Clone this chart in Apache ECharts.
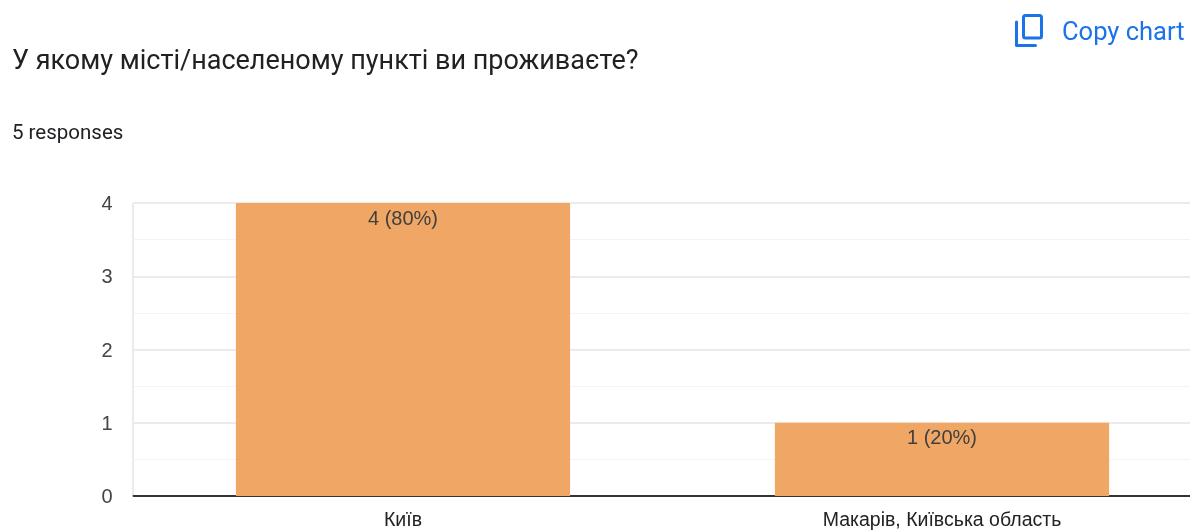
<!DOCTYPE html>
<html>
<head>
<meta charset="utf-8">
<style>html,body{margin:0;padding:0;background:#fff}#chart{width:1190px;height:531px}</style>
<script src="https://cdn.jsdelivr.net/npm/echarts@6/dist/echarts.min.js"></script>
</head>
<body>
<div id="chart"></div>
<script>
// Survey answers: city of residence
const questionTitle = 'У якому місті/населеному пункті ви проживаєте?';
const responsesNote = '5 responses';
const copyLabel = 'Copy chart';
const cities = ['Київ', 'Макарів, Київська область'];
const counts = [4, 1];
const percents = [80, 20];

const chart = echarts.init(document.getElementById('chart'), null, { renderer: 'canvas' });
const FONT = 'Roboto, "Liberation Sans", Arial, sans-serif';
const AXIS_FONT = '"Liberation Sans", Arial, sans-serif';
const BLUE = '#1a73e8';

chart.setOption({
  animation: false,
  backgroundColor: '#ffffff',
  title: [
    { text: questionTitle, left: 12, top: 49, padding: 0,
      textStyle: { fontFamily: FONT, fontSize: 27, fontWeight: 400, color: '#202124' } },
    { text: responsesNote, left: 12, top: 123, padding: 0,
      textStyle: { fontFamily: FONT, fontSize: 20.5, fontWeight: 400, color: '#202124' } },
    { text: copyLabel, left: 1062, top: 21, padding: 0,
      textStyle: { fontFamily: FONT, fontSize: 25.5, fontWeight: 400, color: BLUE } }
  ],
  grid: { left: 133.5, top: 203, width: 1078, height: 293, containLabel: false, outerBoundsMode: 'none' },
  xAxis: {
    type: 'category',
    data: cities,
    axisTick: { show: false },
    axisLine: { lineStyle: { color: '#333333', width: 2 } },
    axisLabel: { fontFamily: AXIS_FONT, fontSize: 19.5, color: '#222222', margin: 15 }
  },
  yAxis: {
    type: 'value',
    min: 0,
    max: 4,
    interval: 1,
    axisLine: { show: false },
    axisTick: { show: false },
    axisLabel: {
      margin: 21,
      formatter: '{tick|{value}}',
      rich: { tick: { fontFamily: AXIS_FONT, fontSize: 20, color: '#444444', padding: [3, 0, 0, 0] } }
    },
    splitLine: { lineStyle: { color: '#ebebeb', width: 2 } },
    minorTick: { show: false, splitNumber: 2 },
    minorSplitLine: { show: true, lineStyle: { color: '#f3f3f3', width: 1 } }
  },
  series: [{
    type: 'bar',
    data: counts,
    barWidth: '62%',
    itemStyle: { color: '#f0a765' },
    label: {
      show: true,
      position: 'insideTop',
      distance: 6,
      fontFamily: AXIS_FONT,
      fontSize: 20,
      color: '#404040',
      formatter: p => `${counts[p.dataIndex]} (${percents[p.dataIndex]}%)`
    }
  }],
  graphic: [
    // Left edge of the plot frame
    { type: 'rect', silent: true, shape: { x: 132, y: 203, width: 2, height: 293 },
      style: { fill: '#ebebeb' }, z: 0 },
    // Copy icon: outlined sheet with an L-shaped sheet behind it
    { type: 'rect', silent: true,
      shape: { x: 1023.5, y: 15.5, width: 18, height: 22.5, r: 2 },
      style: { fill: 'none', stroke: BLUE, lineWidth: 3 } },
    { type: 'polyline', silent: true,
      shape: { points: [[1016.5, 22], [1016.5, 45.5], [1035.5, 45.5]] },
      style: { fill: 'none', stroke: BLUE, lineWidth: 3, lineCap: 'round', lineJoin: 'round' } }
  ]
});
</script>
</body>
</html>
